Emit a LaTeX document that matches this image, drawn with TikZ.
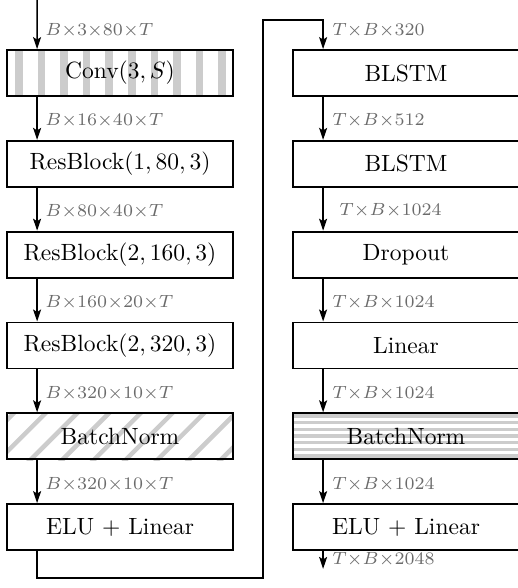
\documentclass[tikz,border=0pt]{standalone}
\usepackage{graphicx}
\usetikzlibrary{arrows.meta}
\pgfdeclarelayer{background}
\pgfsetlayers{background,main}
% block captions and tensor shapes, set small and enlarged
\newcommand\boxtext[1]{\scalebox{2.35}{#1}}
\newcommand\dimtext[1]{\scalebox{2.52}{$\scriptstyle #1$}}
\begin{document}
\begin{tikzpicture}[x=1pt,y=-1pt,
  blk/.style={draw, line width=1.8pt, minimum width=226pt, minimum height=46pt,
    inner sep=0pt},
  arr/.style={line width=1.5pt, -{Stealth[length=12pt,width=8pt,inset=2.5pt]}},
  lbl/.style={anchor=west, inner sep=0pt, text=black!58},
  band/.style={fill=black!20, draw=none},
  slant/.style={draw=black!20, line width=4.5pt}]
\useasboundingbox (0,0) rectangle (518,588);

% encoder column
\node[blk] (conv) at (120,73)    {\boxtext{Conv$(3,S)$}};
\node[blk] (rb1)  at (120,163.8) {\boxtext{ResBlock$(1,80,3)$}};
\node[blk] (rb2)  at (120,254.6) {\boxtext{ResBlock$(2,160,3)$}};
\node[blk] (rb3)  at (120,345.4) {\boxtext{ResBlock$(2,320,3)$}};
\node[blk] (bnA)  at (120,436.2) {\boxtext{BatchNorm}};
\node[blk] (elA)  at (120,527)   {\boxtext{ELU $+$ Linear}};

% recurrent column
\node[blk] (bl1)  at (406,73)    {\boxtext{BLSTM}};
\node[blk] (bl2)  at (406,163.8) {\boxtext{BLSTM}};
\node[blk] (drop) at (406,254.6) {\boxtext{Dropout}};
\node[blk] (lin)  at (406,345.4) {\boxtext{Linear}};
\node[blk] (bnB)  at (406,436.2) {\boxtext{BatchNorm}};
\node[blk] (elB)  at (406,527)   {\boxtext{ELU $+$ Linear}};

% fill patterns
\begin{pgfonlayer}{background}
  \begin{scope}
    \clip (conv.south west) rectangle (conv.north east);
    \foreach \i in {0,...,9}
      \path[band] (15+\i*22.6,40) rectangle (22.5+\i*22.6,100);
  \end{scope}
  \begin{scope}
    \clip (bnA.south west) rectangle (bnA.north east);
    \foreach \i in {-1,...,9}
      \draw[slant] (22+\i*31.7,405) -- ++(-60,60);
  \end{scope}
  \begin{scope}
    \clip (bnB.south west) rectangle (bnB.north east);
    \foreach \i in {0,...,6}
      \path[band] (290,414.3+\i*6.67) rectangle (525,417.6+\i*6.67);
  \end{scope}
\end{pgfonlayer}

% encoder arrows
\coordinate (in) at (37,-2);
\draw[arr] (in) -- ([xshift=31pt]conv.north west);
\draw[arr] ([xshift=31pt]conv.south west) -- ([xshift=31pt]rb1.north west);
\draw[arr] ([xshift=31pt]rb1.south west) -- ([xshift=31pt]rb2.north west);
\draw[arr] ([xshift=31pt]rb2.south west) -- ([xshift=31pt]rb3.north west);
\draw[arr] ([xshift=31pt]rb3.south west) -- ([xshift=31pt]bnA.north west);
\draw[arr] ([xshift=31pt]bnA.south west) -- ([xshift=31pt]elA.north west);

% link between the columns
\coordinate (c1) at (263,578);
\coordinate (c2) at (263,20);
\draw[arr] ([xshift=31pt]elA.south west) |- (c1) -- (c2) -| ([xshift=31pt]bl1.north west);

% recurrent arrows
\draw[arr] ([xshift=31pt]bl1.south west) -- ([xshift=31pt]bl2.north west);
\draw[arr] ([xshift=31pt]bl2.south west) -- ([xshift=31pt]drop.north west);
\draw[arr] ([xshift=31pt]drop.south west) -- ([xshift=31pt]lin.north west);
\draw[arr] ([xshift=31pt]lin.south west) -- ([xshift=31pt]bnB.north west);
\draw[arr] ([xshift=31pt]bnB.south west) -- ([xshift=31pt]elB.north west);
\coordinate (out) at ([xshift=31pt,yshift=-18pt]elB.south west);
\draw[arr] ([xshift=31pt]elB.south west) -- (out);

% tensor shapes
\node[lbl] (s1) at ([xshift=39pt,yshift=19pt]conv.north west) {\dimtext{B\times3\times80\times T}};
\node[lbl] (s2) at ([xshift=39pt,yshift=19pt]rb1.north west)  {\dimtext{B\times16\times40\times T}};
\node[lbl] (s3) at ([xshift=39pt,yshift=19pt]rb2.north west)  {\dimtext{B\times80\times40\times T}};
\node[lbl] (s4) at ([xshift=39pt,yshift=19pt]rb3.north west)  {\dimtext{B\times160\times20\times T}};
\node[lbl] (s5) at ([xshift=39pt,yshift=19pt]bnA.north west)  {\dimtext{B\times320\times10\times T}};
\node[lbl] (s6) at ([xshift=39pt,yshift=19pt]elA.north west)  {\dimtext{B\times320\times10\times T}};

\node[lbl] (t1) at ([xshift=40pt,yshift=19pt]bl1.north west)  {\dimtext{T\times B\times320}};
\node[lbl] (t2) at ([xshift=40pt,yshift=19pt]bl2.north west)  {\dimtext{T\times B\times512}};
\node[lbl] (t3) at ([xshift=47pt,yshift=20pt]drop.north west) {\dimtext{T\times B\times1024}};
\node[lbl] (t4) at ([xshift=40pt,yshift=19pt]lin.north west)  {\dimtext{T\times B\times1024}};
\node[lbl] (t5) at ([xshift=40pt,yshift=19pt]bnB.north west)  {\dimtext{T\times B\times1024}};
\node[lbl] (t6) at ([xshift=40pt,yshift=19pt]elB.north west)  {\dimtext{T\times B\times1024}};
\node[lbl] (t7) at ([xshift=40pt,yshift=-8.5pt]elB.south west)  {\dimtext{T\times B\times2048}};
\end{tikzpicture}
\end{document}
